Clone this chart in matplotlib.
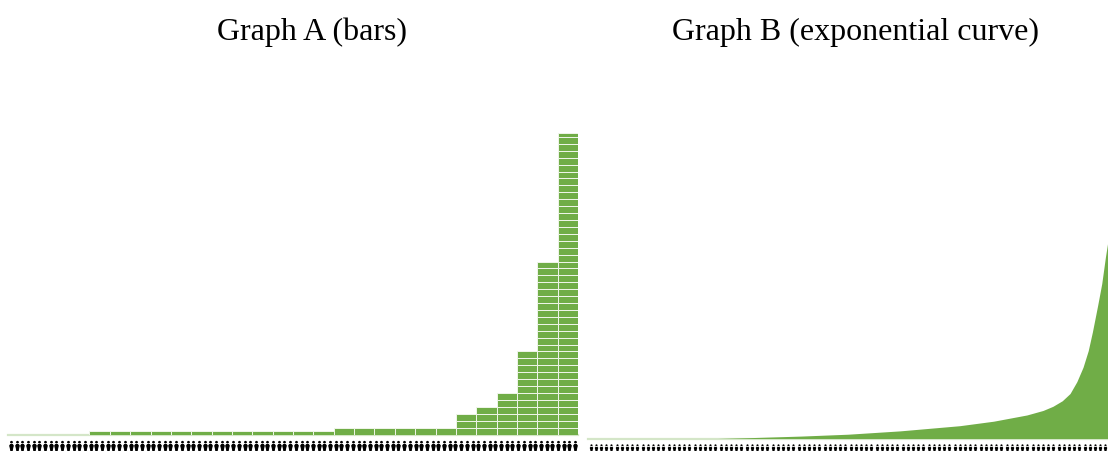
import matplotlib
matplotlib.use("Agg")
from matplotlib import pyplot as plt
from matplotlib.path import Path
from matplotlib.transforms import Affine2D
import numpy as np

WIDTH, HEIGHT = 1108, 451
GREEN = "#70ad47"
BASELINE = "#d4e6c8"

# cells stacked in each bar of graph A
bar_cells = [0, 0, 0, 0,
             0.5, 0.5, 0.5, 0.5, 0.5, 0.5, 0.5, 0.5, 0.5, 0.5, 0.5, 0.5,
             1, 1, 1, 1, 1, 1,
             3, 4, 6, 12, 25, 43.5]

# graph B, share of people (%) against height
curve_x = [0, 25, 31, 41, 50, 60, 71.5, 78, 84.4, 87.5, 89.4, 91.2, 92.7, 94, 95.2,
           96.2, 97, 98, 98.8, 99.5, 100]
curve_y = [0, 0, 0.12, 0.35, 0.62, 1.1, 1.85, 2.5, 3.4, 4.05, 4.65, 5.45, 6.5, 8.2, 10.3,
           12.7, 15.4, 19.2, 22.4, 26.2, 28.6]

people = 100
titles = ["Graph A (bars)", "Graph B (exponential curve)"]


def person_marker():
    head = Path.unit_circle().transformed(Affine2D().scale(0.25).translate(0, 0.75))
    body = Path([(-0.18, -1), (-0.3, -0.3), (-0.42, 0.15), (-0.2, 0.48), (0.2, 0.48), (0.42, 0.15),
                 (0.3, -0.3), (0.18, -1), (-0.18, -1)], closed=True)
    return Path.make_compound_path(head, body)


def make_axes(left, right, top, bottom):
    ax = fig.add_axes([left / WIDTH, 1 - bottom / HEIGHT, (right - left) / WIDTH, (bottom - top) / HEIGHT])
    ax.axis("off")
    return ax


plt.rcParams["font.family"] = ["Liberation Serif", "DejaVu Serif"]
fig = plt.figure(figsize=(WIDTH / 100, HEIGHT / 100), dpi=100)
marker = person_marker()

# graph A
ax_a = make_axes(8, 578, 130, 434.5)
ax_a.set_xlim(0, len(bar_cells))
ax_a.set_ylim(0, 304.5 / 6.92)
ax_a.axhline(0, color=BASELINE, lw=1.6, clip_on=False, zorder=1)
for i, cells in enumerate(bar_cells):
    whole = int(np.ceil(cells))
    for c in range(whole):
        ax_a.bar(i + 0.5, min(1, cells - c), width=1, bottom=c, color=GREEN,
                 edgecolor="#f0f6ea", linewidth=0.7, zorder=2)
xs = (np.arange(people) + 0.5) / people * len(bar_cells)
ax_a.scatter(xs, np.full(people, -1.6), marker=marker, s=66, color="black", linewidths=0, clip_on=False)

# graph B
ax_b = make_axes(588, 1108, 130, 438.5)
ax_b.set_xlim(0, 100)
ax_b.set_ylim(0, 308.5 / 6.92)
ax_b.axhline(0, color=BASELINE, lw=1.6, clip_on=False, zorder=1)
ax_b.fill_between(curve_x, curve_y, 0, color=GREEN, linewidth=0, zorder=2)
xs = (np.arange(people) + 0.5) / people * 100
ax_b.scatter(xs, np.full(people, -1.4), marker=marker, s=36, color="black", linewidths=0, clip_on=False)

fig.text(312 / WIDTH, 1 - 40 / HEIGHT, titles[0], ha="center", va="baseline", fontsize=23, color="black")
fig.text(855 / WIDTH, 1 - 40 / HEIGHT, titles[1], ha="center", va="baseline", fontsize=23, color="black")

fig.savefig("out.png", dpi=100)
